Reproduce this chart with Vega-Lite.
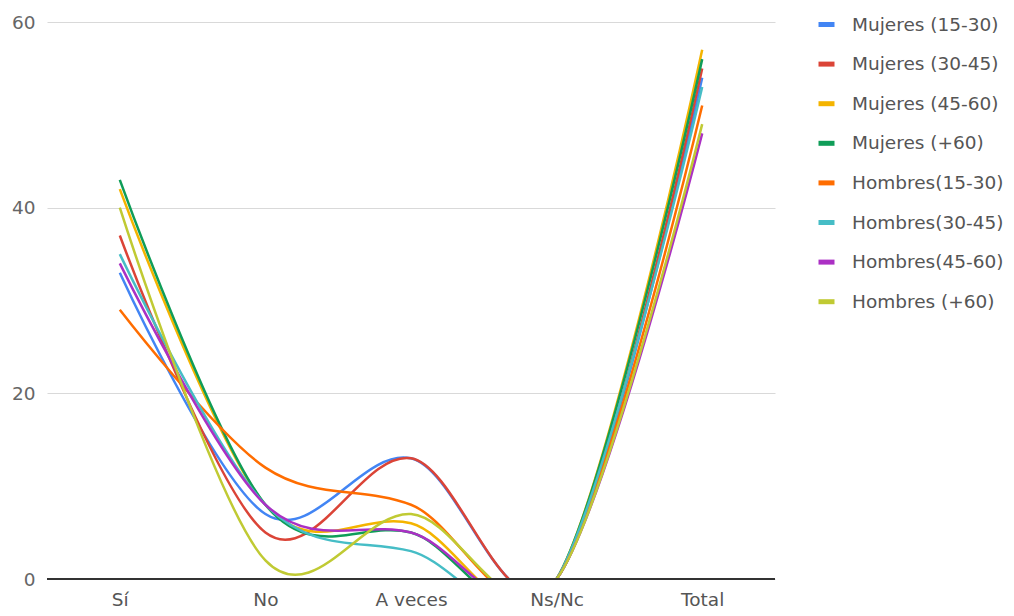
{
  "$schema": "https://vega.github.io/schema/vega-lite/v6.json",
  "width": 728,
  "height": 557,
  "autosize": "none",
  "padding": {"left": 47, "top": 22, "right": 239, "bottom": 37},
  "background": "white",
  "config": {
    "font": "DejaVu Sans",
    "view": {"stroke": null}
  },
  "data": {
    "values": [
      {"serie": "Mujeres (15-30)", "respuesta": "Sí", "valor": 33},
      {"serie": "Mujeres (15-30)", "respuesta": "No", "valor": 7},
      {"serie": "Mujeres (15-30)", "respuesta": "A veces", "valor": 13},
      {"serie": "Mujeres (15-30)", "respuesta": "Ns/Nc", "valor": 0},
      {"serie": "Mujeres (15-30)", "respuesta": "Total", "valor": 54},
      {"serie": "Mujeres (30-45)", "respuesta": "Sí", "valor": 37},
      {"serie": "Mujeres (30-45)", "respuesta": "No", "valor": 5},
      {"serie": "Mujeres (30-45)", "respuesta": "A veces", "valor": 13},
      {"serie": "Mujeres (30-45)", "respuesta": "Ns/Nc", "valor": 0},
      {"serie": "Mujeres (30-45)", "respuesta": "Total", "valor": 55},
      {"serie": "Mujeres (45-60)", "respuesta": "Sí", "valor": 42},
      {"serie": "Mujeres (45-60)", "respuesta": "No", "valor": 8},
      {"serie": "Mujeres (45-60)", "respuesta": "A veces", "valor": 6},
      {"serie": "Mujeres (45-60)", "respuesta": "Ns/Nc", "valor": 0},
      {"serie": "Mujeres (45-60)", "respuesta": "Total", "valor": 57},
      {"serie": "Mujeres (+60)", "respuesta": "Sí", "valor": 43},
      {"serie": "Mujeres (+60)", "respuesta": "No", "valor": 8},
      {"serie": "Mujeres (+60)", "respuesta": "A veces", "valor": 5},
      {"serie": "Mujeres (+60)", "respuesta": "Ns/Nc", "valor": 0},
      {"serie": "Mujeres (+60)", "respuesta": "Total", "valor": 56},
      {"serie": "Hombres(15-30)", "respuesta": "Sí", "valor": 29},
      {"serie": "Hombres(15-30)", "respuesta": "No", "valor": 12},
      {"serie": "Hombres(15-30)", "respuesta": "A veces", "valor": 8},
      {"serie": "Hombres(15-30)", "respuesta": "Ns/Nc", "valor": 0},
      {"serie": "Hombres(15-30)", "respuesta": "Total", "valor": 51},
      {"serie": "Hombres(30-45)", "respuesta": "Sí", "valor": 35},
      {"serie": "Hombres(30-45)", "respuesta": "No", "valor": 8},
      {"serie": "Hombres(30-45)", "respuesta": "A veces", "valor": 3},
      {"serie": "Hombres(30-45)", "respuesta": "Ns/Nc", "valor": 0},
      {"serie": "Hombres(30-45)", "respuesta": "Total", "valor": 53},
      {"serie": "Hombres(45-60)", "respuesta": "Sí", "valor": 34},
      {"serie": "Hombres(45-60)", "respuesta": "No", "valor": 8},
      {"serie": "Hombres(45-60)", "respuesta": "A veces", "valor": 5},
      {"serie": "Hombres(45-60)", "respuesta": "Ns/Nc", "valor": 0},
      {"serie": "Hombres(45-60)", "respuesta": "Total", "valor": 48},
      {"serie": "Hombres (+60)", "respuesta": "Sí", "valor": 40},
      {"serie": "Hombres (+60)", "respuesta": "No", "valor": 2},
      {"serie": "Hombres (+60)", "respuesta": "A veces", "valor": 7},
      {"serie": "Hombres (+60)", "respuesta": "Ns/Nc", "valor": 0},
      {"serie": "Hombres (+60)", "respuesta": "Total", "valor": 49}
    ]
  },
  "layer": [
    {
      "mark": {"type": "line", "interpolate": "cardinal", "strokeWidth": 2.5, "clip": true},
      "encoding": {
        "x": {
          "field": "respuesta",
          "type": "nominal",
          "sort": ["Sí", "No", "A veces", "Ns/Nc", "Total"],
          "scale": {"type": "point", "padding": 0.5},
          "axis": {
            "title": null,
            "labelAngle": 0,
            "ticks": false,
            "domain": false,
            "grid": false,
            "labelFontSize": 18.5,
            "labelColor": "#555555",
            "labelPadding": 11
          }
        },
        "y": {
          "field": "valor",
          "type": "quantitative",
          "scale": {"domain": [0, 60], "nice": false},
          "axis": {
            "title": null,
            "values": [0, 20, 40, 60],
            "ticks": false,
            "domain": false,
            "gridColor": "#d9d9d9",
            "gridWidth": 1,
            "labelFontSize": 18.5,
            "labelColor": "#666666",
            "labelPadding": 12
          }
        },
        "color": {
          "field": "serie",
          "type": "nominal",
          "sort": ["Mujeres (15-30)", "Mujeres (30-45)", "Mujeres (45-60)", "Mujeres (+60)", "Hombres(15-30)", "Hombres(30-45)", "Hombres(45-60)", "Hombres (+60)"],
          "scale": {
            "domain": ["Mujeres (15-30)", "Mujeres (30-45)", "Mujeres (45-60)", "Mujeres (+60)", "Hombres(15-30)", "Hombres(30-45)", "Hombres(45-60)", "Hombres (+60)"],
            "range": ["#4285F4", "#DB4437", "#F4B400", "#0F9D58", "#FF6D00", "#46BDC6", "#AB30C4", "#C0CA33"]
          },
          "legend": {
            "title": null,
            "orient": "none",
            "legendX": 769,
            "legendY": -8,
            "symbolType": "stroke",
            "symbolStrokeWidth": 5,
            "symbolSize": 256,
            "labelFontSize": 18.5,
            "labelColor": "#555555",
            "labelOffset": 15,
            "rowPadding": 18.6
          }
        }
      }
    },
    {
      "mark": {"type": "rule", "color": "#333333", "strokeWidth": 1.5},
      "encoding": {"y": {"datum": 0}}
    }
  ]
}
